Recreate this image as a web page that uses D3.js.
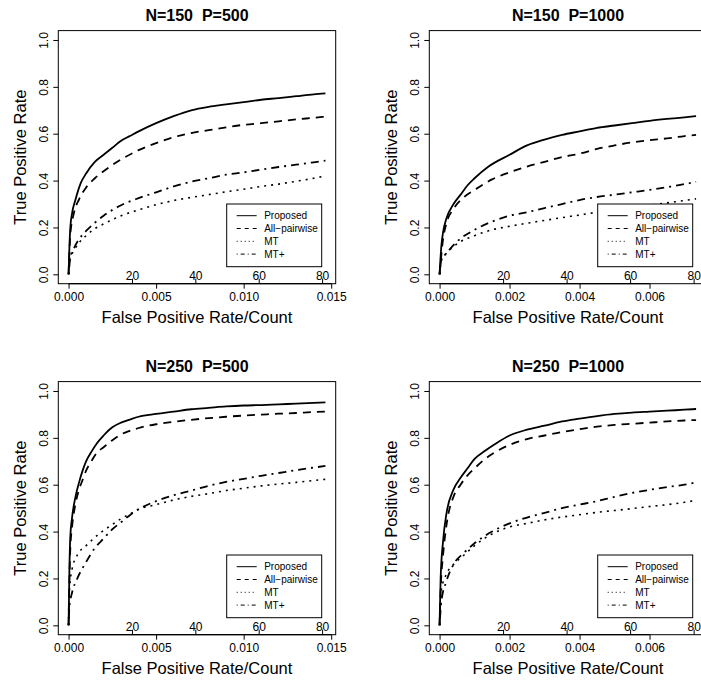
<!DOCTYPE html>
<html>
<head>
<meta charset="utf-8">
<script src="https://cdn.jsdelivr.net/npm/d3@7"></script>
<style>
  body { margin: 0; background: #fff; }
  text { font-family: "Liberation Sans", Arial, Helvetica, sans-serif; fill: #000; }
  .title { white-space: pre; }
</style>
</head>
<body>
<svg id="chart" width="701" height="684"></svg>
<script>
// legend entries and line types (R lty 1..4)
const methods = ['Proposed', 'All\u2212pairwise', 'MT', 'MT+'];
const yTicks = [0, 0.2, 0.4, 0.6, 0.8, 1.0];
const countTicks = [20, 40, 60, 80];
const xTicks500 = [0, 0.005, 0.010, 0.015];
const xTicks1000 = [0, 0.002, 0.004, 0.006];

// [false positive rate, true positive rate]
// N=150 P=500
const p1Proposed = [[0,0],[0.00005,0.12],[0.0001,0.2],[0.0002,0.26],[0.0004,0.32],[0.0007,0.39],[0.001,0.43],
  [0.0015,0.48],[0.002,0.51],[0.0025,0.54],[0.003,0.57],[0.0035,0.59],[0.004,0.61],[0.005,0.645],[0.006,0.675],
  [0.007,0.70],[0.008,0.715],[0.009,0.725],[0.010,0.735],[0.011,0.745],[0.012,0.752],[0.013,0.76],[0.014,0.768],[0.01467,0.772]];
const p1Pairwise = [[0,0],[0.0001,0.17],[0.0003,0.26],[0.0006,0.32],[0.001,0.37],[0.0015,0.41],[0.002,0.44],
  [0.003,0.49],[0.004,0.53],[0.005,0.56],[0.006,0.585],[0.007,0.603],[0.008,0.615],[0.009,0.627],[0.010,0.638],
  [0.011,0.645],[0.012,0.653],[0.013,0.661],[0.014,0.668],[0.01467,0.673]];
const p1MT = [[0,0],[0.0001,0.07],[0.0003,0.1],[0.0006,0.135],[0.001,0.165],[0.0015,0.195],[0.002,0.215],
  [0.003,0.25],[0.004,0.275],[0.005,0.297],[0.006,0.315],[0.007,0.328],[0.008,0.34],[0.009,0.352],[0.010,0.363],
  [0.011,0.375],[0.012,0.385],[0.013,0.397],[0.014,0.41],[0.01467,0.42]];
const p1MTplus = [[0,0],[0.0001,0.07],[0.0003,0.11],[0.0006,0.15],[0.001,0.185],[0.0015,0.22],[0.002,0.25],
  [0.003,0.295],[0.004,0.325],[0.005,0.35],[0.006,0.375],[0.007,0.395],[0.008,0.41],[0.009,0.425],[0.010,0.435],
  [0.011,0.447],[0.012,0.458],[0.013,0.468],[0.014,0.478],[0.01467,0.485]];

// N=150 P=1000
const p2Proposed = [[0,0],[0.00005,0.12],[0.0001,0.18],[0.0002,0.24],[0.0004,0.3],[0.0006,0.34],[0.0008,0.38],
  [0.001,0.41],[0.0014,0.46],[0.002,0.51],[0.0025,0.55],[0.003,0.575],[0.0035,0.595],[0.004,0.61],[0.0045,0.625],
  [0.005,0.635],[0.0055,0.645],[0.006,0.655],[0.0065,0.663],[0.007,0.67],[0.00733,0.675]];
const p2Pairwise = [[0,0],[0.0001,0.15],[0.0002,0.22],[0.0004,0.28],[0.0007,0.33],[0.001,0.36],[0.0015,0.405],
  [0.002,0.435],[0.0025,0.46],[0.003,0.48],[0.0035,0.5],[0.004,0.515],[0.0045,0.535],[0.005,0.55],[0.0055,0.563],
  [0.006,0.572],[0.0065,0.58],[0.007,0.59],[0.00733,0.595]];
const p2MT = [[0,0],[0.00005,0.06],[0.0002,0.09],[0.0005,0.13],[0.001,0.165],[0.0015,0.19],[0.002,0.205],
  [0.0025,0.218],[0.003,0.23],[0.0035,0.242],[0.004,0.253],[0.0045,0.265],[0.005,0.275],[0.0055,0.285],
  [0.006,0.295],[0.0065,0.305],[0.007,0.315],[0.00733,0.322]];
const p2MTplus = [[0,0],[0.00005,0.06],[0.0002,0.09],[0.0005,0.14],[0.001,0.19],[0.0015,0.225],[0.002,0.25],
  [0.0025,0.265],[0.003,0.283],[0.0035,0.3],[0.004,0.317],[0.0045,0.33],[0.005,0.34],[0.0055,0.35],
  [0.006,0.36],[0.0065,0.372],[0.007,0.385],[0.00733,0.395]];

// N=250 P=500
const p3Proposed = [[0,0],[0.00005,0.25],[0.0001,0.38],[0.0002,0.46],[0.0004,0.55],[0.0006,0.61],[0.0008,0.66],
  [0.001,0.7],[0.0013,0.74],[0.0016,0.775],[0.002,0.81],[0.0025,0.845],[0.003,0.865],[0.0035,0.878],[0.004,0.89],
  [0.005,0.902],[0.006,0.912],[0.007,0.922],[0.008,0.928],[0.009,0.934],[0.010,0.938],[0.011,0.94],[0.012,0.943],
  [0.013,0.946],[0.014,0.949],[0.01467,0.951]];
const p3Pairwise = [[0,0],[0.00005,0.2],[0.0001,0.33],[0.0002,0.42],[0.0004,0.52],[0.0006,0.58],[0.0008,0.62],
  [0.001,0.66],[0.0013,0.7],[0.0016,0.735],[0.002,0.76],[0.0025,0.79],[0.003,0.815],[0.0035,0.83],[0.004,0.842],
  [0.005,0.858],[0.006,0.868],[0.007,0.877],[0.008,0.884],[0.009,0.89],[0.010,0.895],[0.011,0.899],[0.012,0.903],
  [0.013,0.906],[0.014,0.91],[0.01467,0.912]];
const p3MT = [[0,0],[0.00005,0.15],[0.0002,0.24],[0.0005,0.3],[0.001,0.34],[0.0015,0.375],[0.002,0.405],
  [0.0025,0.43],[0.003,0.455],[0.0035,0.475],[0.004,0.495],[0.005,0.515],[0.006,0.535],[0.007,0.55],[0.008,0.562],
  [0.009,0.575],[0.010,0.585],[0.011,0.595],[0.012,0.603],[0.013,0.61],[0.014,0.618],[0.01467,0.623]];
const p3MTplus = [[0,0],[0.00005,0.08],[0.0002,0.14],[0.0005,0.2],[0.001,0.27],[0.0015,0.33],[0.002,0.37],
  [0.0025,0.41],[0.003,0.44],[0.0035,0.47],[0.004,0.495],[0.005,0.53],[0.006,0.555],[0.007,0.575],[0.008,0.595],
  [0.009,0.612],[0.010,0.625],[0.011,0.638],[0.012,0.65],[0.013,0.662],[0.014,0.673],[0.01467,0.68]];

// N=250 P=1000
const p4Proposed = [[0,0],[0.00003,0.2],[0.0001,0.36],[0.0002,0.48],[0.0004,0.58],[0.0006,0.63],[0.0008,0.67],
  [0.001,0.71],[0.0013,0.745],[0.0016,0.775],[0.002,0.81],[0.0025,0.835],[0.003,0.852],[0.0035,0.87],[0.004,0.882],
  [0.0045,0.893],[0.005,0.902],[0.0055,0.908],[0.006,0.912],[0.0065,0.916],[0.007,0.92],[0.00733,0.923]];
const p4Pairwise = [[0,0],[0.00003,0.15],[0.0001,0.3],[0.0002,0.43],[0.0004,0.55],[0.0006,0.6],[0.0008,0.64],
  [0.001,0.67],[0.0013,0.71],[0.0016,0.74],[0.002,0.77],[0.0025,0.795],[0.003,0.81],[0.0035,0.825],[0.004,0.837],
  [0.0045,0.848],[0.005,0.855],[0.0055,0.86],[0.006,0.865],[0.0065,0.87],[0.007,0.874],[0.00733,0.876]];
const p4MT = [[0,0],[0.00005,0.15],[0.0002,0.22],[0.0004,0.26],[0.0007,0.3],[0.001,0.34],[0.0015,0.39],
  [0.002,0.42],[0.0025,0.435],[0.003,0.45],[0.0035,0.462],[0.004,0.472],[0.0045,0.482],[0.005,0.49],
  [0.0055,0.498],[0.006,0.507],[0.0065,0.515],[0.007,0.525],[0.00733,0.533]];
const p4MTplus = [[0,0],[0.00005,0.1],[0.0002,0.19],[0.0004,0.26],[0.0007,0.31],[0.001,0.35],[0.0015,0.4],
  [0.002,0.435],[0.0025,0.46],[0.003,0.48],[0.0035,0.5],[0.004,0.515],[0.0045,0.53],[0.005,0.548],
  [0.0055,0.565],[0.006,0.578],[0.0065,0.59],[0.007,0.6],[0.00733,0.61]];

// false positive rate at which the count axis reads 80
const count80Fpr500 = 0.01448;
const count80Fpr1000 = 0.00726;

const panels = [
  { title: 'N=150  P=500',  xmax: 0.01467, xticks: xTicks500,  c80: count80Fpr500,  series: [p1Proposed, p1Pairwise, p1MT, p1MTplus], col: 0, row: 0 },
  { title: 'N=150  P=1000', xmax: 0.00734, xticks: xTicks1000, c80: count80Fpr1000, series: [p2Proposed, p2Pairwise, p2MT, p2MTplus], col: 1, row: 0 },
  { title: 'N=250  P=500',  xmax: 0.01467, xticks: xTicks500,  c80: count80Fpr500,  series: [p3Proposed, p3Pairwise, p3MT, p3MTplus], col: 0, row: 1 },
  { title: 'N=250  P=1000', xmax: 0.00734, xticks: xTicks1000, c80: count80Fpr1000, series: [p4Proposed, p4Pairwise, p4MT, p4MTplus], col: 1, row: 1 }
];

const lineDash = [null, '8,6', '2,5', '2,5,8,5'];
const legendDash = [null, '4,4', '1,3', '1,3,4,3'];

const svg = d3.select('#chart');
svg.append('rect').attr('width', 701).attr('height', 684).attr('fill', '#fff');

const box = { left: 58.3, right: 335.7, top: 30.6, bottom: 283.7 };

panels.forEach(p => {
  const g = svg.append('g')
    .attr('transform', `translate(${p.col * 371},${p.row * 351})`);

  const x = d3.scaleLinear()
    .domain([-0.04 * p.xmax, 1.04 * p.xmax])
    .range([box.left, box.right]);
  const y = d3.scaleLinear()
    .domain([-0.04, 1.04])
    .range([box.bottom, box.top]);
  const count = d3.scaleLinear().domain([0, 80]).range([0, p.c80]);

  // curves
  const line = d3.line()
    .x(d => x(d[0]))
    .y(d => y(d[1]))
    .curve(d3.curveMonotoneX);

  p.series.forEach((s, i) => {
    g.append('path')
      .datum(s)
      .attr('fill', 'none')
      .attr('stroke', '#000')
      .attr('stroke-width', i === 2 ? 1.6 : 1.8)
      .attr('stroke-dasharray', lineDash[i])
      .attr('d', line);
  });

  // frame
  g.append('rect')
    .attr('x', box.left).attr('y', box.top)
    .attr('width', box.right - box.left).attr('height', box.bottom - box.top)
    .attr('fill', 'none').attr('stroke', '#000').attr('stroke-width', 1);

  // bottom axis (rate)
  const xAxis = g.append('g')
    .attr('transform', `translate(0,${box.bottom})`)
    .call(d3.axisBottom(x).tickValues(p.xticks).tickFormat(d3.format('.3f')).tickSize(5).tickPadding(4));
  xAxis.select('.domain')
    .attr('d', `M${x(p.xticks[0])},0H${x(p.xticks[p.xticks.length - 1])}`)
    .attr('stroke-width', 1.2);
  xAxis.selectAll('text').attr('font-size', 12).attr('font-family', null);

  // count labels drawn just above the bottom line
  const cAxis = g.append('g')
    .attr('transform', `translate(0,${box.bottom})`)
    .call(d3.axisTop(x).tickValues(countTicks.map(c => count(c))).tickFormat((d, i) => countTicks[i]).tickSize(5).tickPadding(-1));
  cAxis.select('.domain').remove();
  cAxis.selectAll('text').attr('font-size', 12).attr('font-family', null);

  // left axis
  const yAxis = g.append('g')
    .attr('transform', `translate(${box.left},0)`)
    .call(d3.axisLeft(y).tickValues(yTicks).tickFormat(d3.format('.1f')).tickSize(5).tickPadding(0));
  yAxis.select('.domain').remove();
  yAxis.selectAll('.tick text')
    .attr('font-size', 12).attr('font-family', null)
    .attr('x', null).attr('dy', null)
    .attr('text-anchor', 'middle')
    .attr('transform', 'translate(-10,0) rotate(-90)');

  // titles
  g.append('text')
    .attr('class', 'title')
    .attr('x', (box.left + box.right) / 2).attr('y', 20.5)
    .attr('text-anchor', 'middle').attr('font-size', 16).attr('font-weight', 'bold')
    .text(p.title);
  g.append('text')
    .attr('x', (box.left + box.right) / 2).attr('y', 322.5)
    .attr('text-anchor', 'middle').attr('font-size', 16.5)
    .text('False Positive Rate/Count');
  g.append('text')
    .attr('transform', `translate(26,${(box.top + box.bottom) / 2}) rotate(-90)`)
    .attr('text-anchor', 'middle').attr('font-size', 16.5)
    .text('True Positive Rate');

  // legend
  const lg = g.append('g').attr('transform', 'translate(226.7,204)');
  lg.append('rect')
    .attr('width', 95).attr('height', 62.7)
    .attr('fill', '#fff').attr('stroke', '#000').attr('stroke-width', 1);
  methods.forEach((m, i) => {
    const ly = 11.7 + i * 12.8;
    lg.append('line')
      .attr('x1', 10).attr('x2', 30).attr('y1', ly).attr('y2', ly)
      .attr('stroke', '#000').attr('stroke-width', 1)
      .attr('stroke-dasharray', legendDash[i]);
    lg.append('text')
      .attr('x', 37.5).attr('y', ly + 3.6)
      .attr('font-size', 10)
      .text(m);
  });
});
</script>
</body>
</html>
